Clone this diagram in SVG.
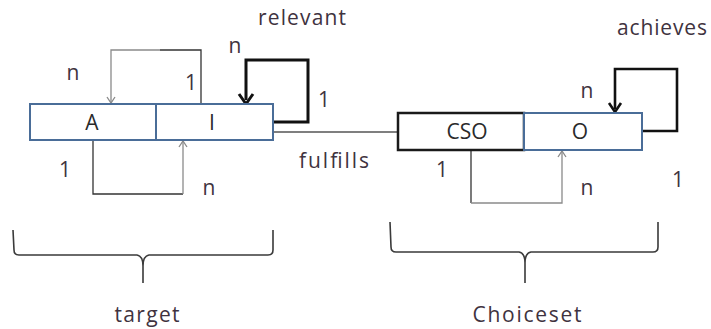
<svg xmlns="http://www.w3.org/2000/svg" width="711" height="329" viewBox="0 0 711 329">
  <style>
    .lbl { font-family: "Open Sans", "Liberation Sans", sans-serif; font-size: 21px; fill: #3f3340; text-anchor: middle; }
    .box { fill: #ffffff; stroke: #4a6d98; stroke-width: 2; }
    .boxdark { fill: #ffffff; stroke: #1a1a1a; stroke-width: 2.5; }
    .name { font-family: "Open Sans", "Liberation Sans", sans-serif; font-size: 21px; fill: #2a2a2a; text-anchor: middle; }
    .thin { fill: none; stroke: #8a8a8a; stroke-width: 1.3; }
    .thindark { fill: none; stroke: #333333; stroke-width: 1.3; }
    .thick { fill: none; stroke: #111111; stroke-width: 3; }
    .brace { fill: none; stroke: #3a3a3a; stroke-width: 1.6; }
  </style>
  <rect width="711" height="329" fill="#ffffff"/>

  <g id="connectors">
    <!-- I refers back to A (top loop) -->
    <path class="thindark" d="M201,104 L201,50 L160,50"/>
    <path class="thin" d="M160,50 L111,50 L111,103"/>
    <path d="M107,97 L111,103 L115,97" fill="none" stroke="#8a8a8a" stroke-width="1.3"/>
    <!-- A refers to I (bottom loop) -->
    <path class="thindark" d="M93,140 L93,194 L183,194"/>
    <path class="thin" d="M183,194 L183,141"/>
    <path d="M179,147 L183,141 L187,147" fill="none" stroke="#8a8a8a" stroke-width="1.3"/>
    <!-- I relevant self loop -->
    <path class="thick" d="M273,122 L308,122 L308,60 L246,60 L246,100"/>
    <path d="M239,94 L246,104 L253,94" fill="none" stroke="#111111" stroke-width="3"/>
    <!-- fulfills link -->
    <path d="M273,132 L398,132" fill="none" stroke="#555555" stroke-width="1.3"/>
    <!-- O achieves self loop -->
    <path class="thick" d="M643,131 L677,131 L677,69 L615,69 L615,109" style="stroke-width:2.6"/>
    <path d="M609,103 L615,112 L621,103" fill="none" stroke="#111111" stroke-width="2.6"/>
    <!-- CSO to O (bottom loop) -->
    <path class="thindark" d="M471,150 L471,203"/>
    <path class="thin" d="M471,203 L562,203 L562,151"/>
    <path d="M558,157 L562,151 L566,157" fill="none" stroke="#8a8a8a" stroke-width="1.3"/>
  </g>

  <g id="node-A">
    <rect class="box" x="30" y="104" width="126" height="36"/>
    <text class="name" x="92" y="130">A</text>
  </g>
  <g id="node-I">
    <rect class="box" x="156" y="104" width="117" height="36"/>
    <text class="name" x="212" y="130">I</text>
  </g>
  <g id="node-CSO">
    <rect class="boxdark" x="398" y="113" width="126" height="37"/>
    <text class="name" x="467" y="139">CSO</text>
  </g>
  <g id="node-O">
    <rect class="box" x="524" y="113" width="118" height="37"/>
    <text class="name" x="580" y="139">O</text>
  </g>

  <g id="labels">
    <text class="lbl" x="302" y="25" textLength="88" lengthAdjust="spacing">relevant</text>
    <text class="lbl" x="235" y="53">n</text>
    <text class="lbl" x="73" y="80">n</text>
    <text class="lbl" x="191" y="90">1</text>
    <text class="lbl" x="324" y="107">1</text>
    <text class="lbl" x="65" y="177">1</text>
    <text class="lbl" x="209" y="195">n</text>
    <text class="lbl" x="334" y="168" textLength="70" lengthAdjust="spacing">fulfills</text>
    <text class="lbl" x="662" y="35" textLength="90" lengthAdjust="spacing">achieves</text>
    <text class="lbl" x="587" y="98">n</text>
    <text class="lbl" x="442" y="177">1</text>
    <text class="lbl" x="587" y="195">n</text>
    <text class="lbl" x="678" y="187">1</text>
  </g>

  <g id="group-target">
    <path class="brace" d="M13,230 L14,250 Q14,255 19,255 L137,255 Q143,256 143,266 L143,283 M143,266 Q143,256 149,255 L268,255 Q273,255 273,250 L273,230"/>
    <text class="lbl" x="147" y="322" textLength="65" lengthAdjust="spacing">target</text>
  </g>
  <g id="group-choiceset">
    <path class="brace" d="M390,222 L391,247 Q391,252 396,252 L519,252 Q525,253 525,263 L525,283 M525,263 Q525,253 531,252 L653,252 Q658,252 658,247 L658,222"/>
    <text class="lbl" x="527" y="322" textLength="109" lengthAdjust="spacing">Choiceset</text>
  </g>
</svg>
